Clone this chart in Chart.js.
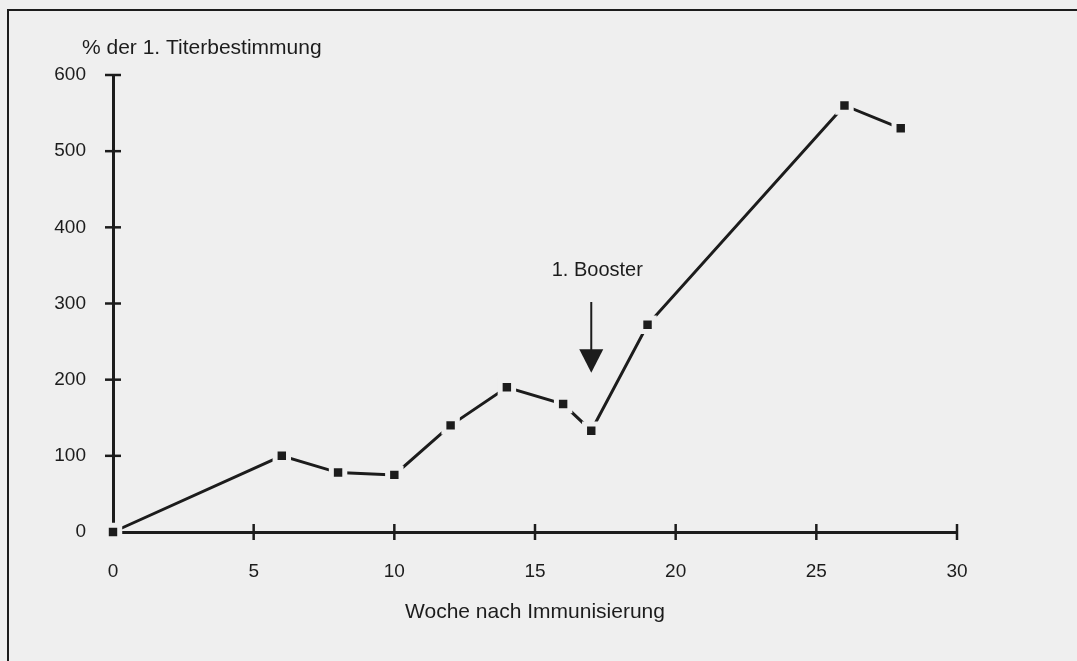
<!DOCTYPE html>
<html>
<head>
<meta charset="utf-8">
<script src="https://cdn.jsdelivr.net/npm/chart.js@4.4.1/dist/chart.umd.min.js"></script>
<style>
    html, body { margin: 0; padding: 0; background: #efefef; }
    #wrap { width: 1077px; height: 661px; position: relative; }
</style>
</head>
<body>
<div id="wrap"><canvas id="titerchart"></canvas></div>
<script>
// Data block
const weeks = [0, 6, 8, 10, 12, 14, 16, 17, 19, 26, 28];
const titerPercent = [0, 100, 78, 75, 140, 190, 168, 133, 272, 560, 530];
const xTickValues = [0, 5, 10, 15, 20, 25, 30];
const yTickValues = [0, 100, 200, 300, 400, 500, 600];
const yAxisTitle = '% der 1. Titerbestimmung';
const xAxisTitle = 'Woche nach Immunisierung';
const boosterLabel = '1. Booster';
const boosterWeek = 17;

const ink = '#1c1c1c';
const paper = '#efefef';
const fontFamily = '"Liberation Sans", Arial, Helvetica, sans-serif';

// Paper, frame, titles, cross ticks and booster arrow
const scanDecor = {
    id: 'scanDecor',
    beforeDraw(chart) {
        const ctx = chart.ctx;
        ctx.save();
        ctx.fillStyle = paper;
        ctx.fillRect(0, 0, chart.width, chart.height);
        ctx.restore();
    },
    afterDatasetsDraw(chart) {
        const ctx = chart.ctx;
        const x = chart.scales.x;
        const y = chart.scales.y;
        ctx.save();
        ctx.strokeStyle = ink;
        ctx.fillStyle = ink;

        // frame (top and left edge of the figure box)
        ctx.lineWidth = 2;
        ctx.beginPath();
        ctx.moveTo(8, chart.height);
        ctx.lineTo(8, 10);
        ctx.lineTo(chart.width + 2, 10);
        ctx.stroke();

        // ticks crossing the axes
        ctx.lineWidth = 2.5;
        xTickValues.filter(v => v > 0).forEach(v => {
            const px = x.getPixelForValue(v);
            ctx.beginPath();
            ctx.moveTo(px, y.bottom - 8);
            ctx.lineTo(px, y.bottom + 8);
            ctx.stroke();
        });
        yTickValues.filter(v => v > 0).forEach(v => {
            const py = y.getPixelForValue(v);
            ctx.beginPath();
            ctx.moveTo(x.left - 8, py);
            ctx.lineTo(x.left + 8, py);
            ctx.stroke();
        });

        // axis titles
        ctx.font = '21px ' + fontFamily;
        ctx.textBaseline = 'middle';
        ctx.textAlign = 'left';
        ctx.fillText(yAxisTitle, 82, 48);
        ctx.textAlign = 'center';
        ctx.fillText(xAxisTitle, (x.left + x.right) / 2, 612);

        // booster annotation
        ctx.font = '20px ' + fontFamily;
        const bx = x.getPixelForValue(boosterWeek);
        const shaftTop = y.getPixelForValue(302);
        const headBase = y.getPixelForValue(240);
        const tip = y.getPixelForValue(209);
        ctx.fillText(boosterLabel, bx + 6, y.getPixelForValue(343));
        ctx.lineWidth = 2;
        ctx.beginPath();
        ctx.moveTo(bx, shaftTop);
        ctx.lineTo(bx, headBase + 1);
        ctx.stroke();
        ctx.beginPath();
        ctx.moveTo(bx - 12, headBase);
        ctx.lineTo(bx + 12, headBase);
        ctx.lineTo(bx, tip);
        ctx.closePath();
        ctx.fill();
        ctx.restore();
    }
};

const titerData = {
    datasets: [{
        data: weeks.map((w, i) => ({x: w, y: titerPercent[i]})),
        borderColor: ink,
        borderWidth: 3,
        pointStyle: 'rect',
        pointRadius: 9.5,
        pointBackgroundColor: ink,
        pointBorderColor: paper,
        pointBorderWidth: 5,
        tension: 0,
        clip: false
    }]
};

const titerConfig = {
    type: 'line',
    data: titerData,
    options: {
        responsive: true,
        maintainAspectRatio: false,
        animation: false,
        events: [],
        layout: {
            padding: {top: 75, right: 120, left: 0, bottom: 0}
        },
        plugins: {
            legend: {display: false},
            tooltip: {enabled: false}
        },
        scales: {
            x: {
                type: 'linear',
                min: 0,
                max: 30,
                afterBuildTicks: (axis) => { axis.ticks = xTickValues.map(v => ({value: v})); },
                afterFit: (axis) => { axis.height = 129; },
                grid: {display: false, drawTicks: false},
                border: {display: true, color: ink, width: 3},
                ticks: {
                    color: ink,
                    padding: 28,
                    font: {size: 19, family: fontFamily}
                }
            },
            y: {
                type: 'linear',
                min: 0,
                max: 600,
                afterBuildTicks: (axis) => { axis.ticks = yTickValues.map(v => ({value: v})); },
                afterFit: (axis) => { axis.width = 113; },
                grid: {display: false, drawTicks: false},
                border: {display: true, color: ink, width: 3},
                ticks: {
                    color: ink,
                    padding: 27,
                    font: {size: 19, family: fontFamily}
                }
            }
        }
    },
    plugins: [scanDecor]
};

const titerChart = new Chart(
    document.getElementById('titerchart'),
    titerConfig
);
</script>
</body>
</html>
